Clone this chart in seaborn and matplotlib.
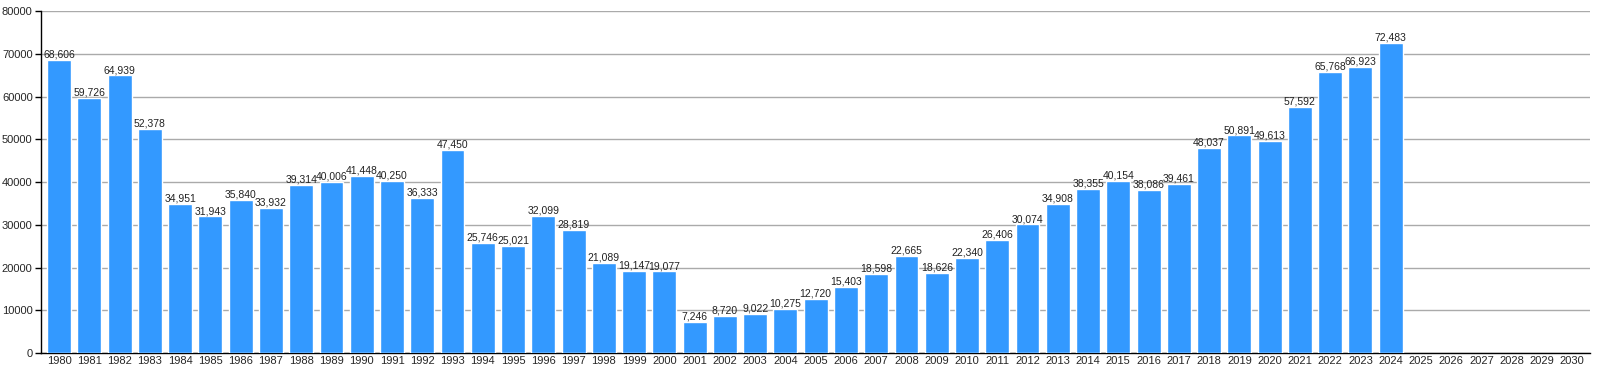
import numpy as np
import pandas as pd
import matplotlib
matplotlib.use("Agg")
import matplotlib.pyplot as plt
import seaborn as sns

years = [str(y) for y in range(1980, 2031)]
values = [68606, 59726, 64939, 52378, 34951, 31943, 35840, 33932, 39314, 40006,
          41448, 40250, 36333, 47450, 25746, 25021, 32099, 28819, 21089, 19147,
          19077, 7246, 8720, 9022, 10275, 12720, 15403, 18598, 22665, 18626,
          22340, 26406, 30074, 34908, 38355, 40154, 38086, 39461, 48037, 50891,
          49613, 57592, 65768, 66923, 72483,
          np.nan, np.nan, np.nan, np.nan, np.nan, np.nan]
y_ticks = [0, 10000, 20000, 30000, 40000, 50000, 60000, 70000, 80000]

sns.set_theme(style="white")
plt.rcParams['font.family'] = ['Liberation Sans', 'DejaVu Sans']

df = pd.DataFrame({"year": years, "value": values})

fig = plt.figure(figsize=(16, 3.7), dpi=100)
ax = fig.add_axes([0.0256, 0.046, 0.994 - 0.0256, 0.970 - 0.046])

sns.barplot(data=df, x="year", y="value", color="#3399ff", saturation=1,
            width=0.79, ax=ax, zorder=3)

ax.set_ylim(0, 80000)
ax.set_xlim(-0.6, len(years) - 0.4)
ax.set_yticks(y_ticks)
ax.set_yticklabels([str(t) for t in y_ticks])
ax.yaxis.grid(True, color="#aaaaaa", linewidth=1, zorder=0)
ax.set_axisbelow(True)
ax.set_xlabel("")
ax.set_ylabel("")

for s in ["top", "right"]:
    ax.spines[s].set_visible(False)
for s in ["left", "bottom"]:
    ax.spines[s].set_color("black")
    ax.spines[s].set_linewidth(1)

ax.tick_params(axis="y", which="major", length=4, width=1, color="black",
               labelsize=8, pad=2, left=True)
ax.tick_params(axis="x", length=0, labelsize=8, pad=2)

for i, v in enumerate(values):
    if not np.isnan(v):
        ax.text(i, v + 100, f"{int(v):,}", ha="center", va="bottom",
                fontsize=7.5, color="#222222", zorder=4)

fig.savefig("out.png", dpi=100)
